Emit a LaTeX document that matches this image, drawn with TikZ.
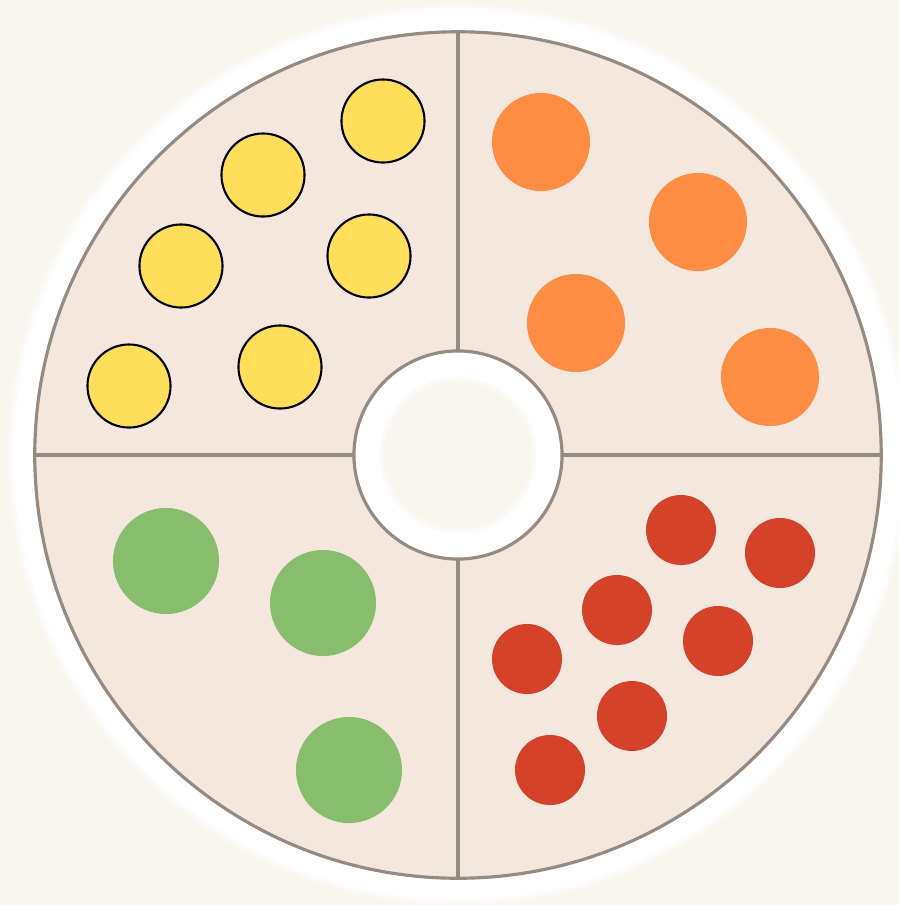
\documentclass[tikz,border=0pt]{standalone}
\usepackage{tikz}
\usetikzlibrary{positioning}

\definecolor{bgcream}{HTML}{FAF6F0}
\definecolor{sectorfill}{HTML}{F4E8DE}
\definecolor{rimgray}{HTML}{948B83}
\definecolor{dotyellow}{HTML}{FFDE5C}
\definecolor{dotorange}{HTML}{FD8D42}
\definecolor{dotgreen}{HTML}{87BD6D}
\definecolor{dotred}{HTML}{D44329}

\begin{document}
\begin{tikzpicture}[x=0.01cm, y=-0.01cm,
		rim/.style={draw=rimgray, line width=0.9pt},
		yellowdot/.style={circle, draw=black, line width=0.6pt, fill=dotyellow, inner sep=0pt, minimum size=0.83cm},
		orangedot/.style={circle, fill=dotorange, inner sep=0pt, minimum size=0.98cm},
		greendot/.style={circle, fill=dotgreen, inner sep=0pt, minimum size=1.06cm},
		reddot/.style={circle, fill=dotred, inner sep=0pt, minimum size=0.70cm}]
		
		% Fundo
		\fill[bgcream] (0,0) rectangle (899,905);
		\useasboundingbox (0,0) rectangle (899,905);
		
		% Halo branco
		\coordinate (c) at (458,455);
		\fill[white, opacity=0.35] (c) circle[radius=4.50cm];
		\fill[white, opacity=0.6] (c) circle[radius=4.47cm];
		\fill[white] (c) circle[radius=4.44cm];
		
		% Disco com quadrantes
		\fill[sectorfill] (c) circle[radius=4.23cm];
		\coordinate (top) at (458,32);
		\coordinate (bottom) at (458,878);
		\coordinate (left) at (35,455);
		\coordinate (right) at (881,455);
		\draw[rim] (top) -- (bottom);
		\draw[rim] (left) -- (right);
		\draw[rim] (c) circle[radius=4.23cm];
		
		% Centro
		\draw[rim, fill=white] (c) circle[radius=1.04cm];
		\fill[bgcream, opacity=0.5] (c) circle[radius=0.78cm];
		\fill[bgcream] (c) circle[radius=0.74cm];
		
		% Amarelos
		\node[yellowdot] (y1) at (383,121) {};
		\node[yellowdot] (y2) at (263,175) {};
		\node[yellowdot] (y3) at (181,266) {};
		\node[yellowdot] (y4) at (369,256) {};
		\node[yellowdot] (y5) at (129,386) {};
		\node[yellowdot] (y6) at (280,367) {};
		
		% Laranjas
		\node[orangedot] (o1) at (541,142) {};
		\node[orangedot] (o2) at (698,222) {};
		\node[orangedot] (o3) at (576,323) {};
		\node[orangedot] (o4) at (770,377) {};
		
		% Verdes
		\node[greendot] (g1) at (166,561) {};
		\node[greendot] (g2) at (323,603) {};
		\node[greendot] (g3) at (349,770) {};
		
		% Vermelhos
		\node[reddot] (r1) at (681,530) {};
		\node[reddot] (r2) at (780,553) {};
		\node[reddot] (r3) at (617,610) {};
		\node[reddot] (r4) at (718,641) {};
		\node[reddot] (r5) at (527,659) {};
		\node[reddot] (r6) at (632,716) {};
		\node[reddot] (r7) at (550,770) {};
		
	\end{tikzpicture}
\end{document}
